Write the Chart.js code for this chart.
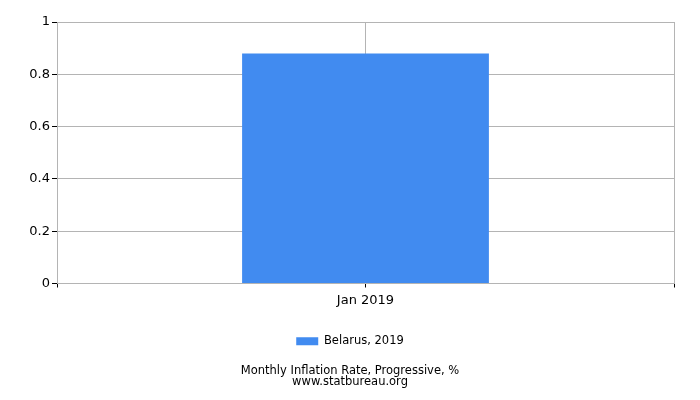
<!DOCTYPE html>
<html>
<head>
<meta charset="utf-8">
<script src="https://cdn.jsdelivr.net/npm/chart.js@4"></script>
<style>
  html, body { margin: 0; padding: 0; background: #fff; }
  #wrap { width: 700px; height: 400px; }
</style>
</head>
<body>
<div id="wrap"><canvas id="chart" width="700" height="400"></canvas></div>
<script>
// chart data
const categories = ["Jan 2019"];
const belarus2019 = [0.88];
const yTicks = [0, 0.2, 0.4, 0.6, 0.8, 1];

const ctx = document.getElementById("chart").getContext("2d");
Chart.defaults.font.family = "'DejaVu Sans', sans-serif";
Chart.defaults.color = "#000";

new Chart(ctx, {
  type: "bar",
  data: {
    labels: categories,
    datasets: [
      {
        label: "Belarus, 2019",
        data: belarus2019,
        backgroundColor: "#418bf0",
        borderWidth: 0,
        categoryPercentage: 0.4,
        barPercentage: 1,
      },
    ],
  },
  options: {
    responsive: false,
    animation: false,
    layout: { padding: { top: 22, right: 0, left: 0, bottom: 12 } },
    plugins: {
      legend: {
        position: "bottom",
        labels: { boxWidth: 22, boxHeight: 8, font: { size: 11.5 }, padding: 14 },
      },
      title: {
        display: true,
        position: "bottom",
        text: ["Monthly Inflation Rate, Progressive, %", "www.statbureau.org"],
        font: { size: 11.5, weight: "normal", lineHeight: 1 },
        padding: { top: 8, bottom: 0 },
      },
      tooltip: { enabled: false },
    },
    scales: {
      x: {
        offset: true,
        grid: { offset: false, color: "#b4b4b4", tickColor: "#000", tickLength: 4 },
        border: { color: "#b4b4b4" },
        ticks: { font: { size: 13 }, padding: 5 },
        afterFit: (s) => { s.height = 38; },
      },
      x2: {
        type: "category",
        labels: categories,
        position: "bottom",
        weight: -1,
        offset: true,
        grid: { offset: true, color: "#b4b4b4", tickColor: "#000", tickLength: 4 },
        border: { display: false },
        ticks: { display: false },
        afterFit: (s) => { s.height = 0; },
      },
      y: {
        min: 0,
        max: 1,
        afterBuildTicks: (s) => { s.ticks = yTicks.map((v) => ({ value: v })); },
        grid: { color: "#b4b4b4", tickColor: "#000", tickLength: 5 },
        border: { color: "#b4b4b4" },
        ticks: { font: { size: 13 }, padding: 2, callback: (v) => String(v) },
        afterFit: (s) => { s.width = 57; },
      },
      // empty right-hand strip so legend and title stay centred on the page
      yRight: {
        position: "right",
        min: 0,
        max: 1,
        grid: { display: false },
        border: { display: false },
        ticks: { display: false },
        afterFit: (s) => { s.width = 26; },
      },
    },
  },
});
</script>
</body>
</html>
